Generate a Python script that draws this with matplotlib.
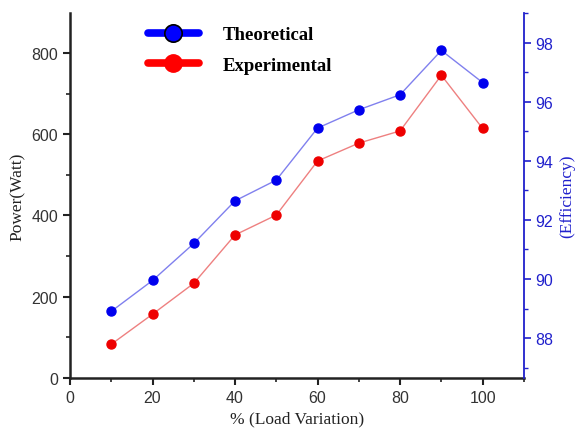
import matplotlib
matplotlib.use("Agg")
import matplotlib.pyplot as plt
from matplotlib.lines import Line2D
from matplotlib.ticker import MultipleLocator

load = [10, 20, 30, 40, 50, 60, 70, 80, 90, 100]
theoretical = [164, 240, 331, 436, 487, 615, 660, 697, 806, 727]
experimental = [83, 157, 233, 352, 401, 534, 578, 608, 745, 614]
left_ticks = [0, 200, 400, 600, 800]
right_ticks = [88, 90, 92, 94, 96, 98]
x_ticks = [0, 20, 40, 60, 80, 100]

fig = plt.figure(figsize=(5.76, 4.35), dpi=100)
ax = fig.add_axes([0.1215, 0.1287, 0.788, 0.839])

ax.plot(load, theoretical, color="#8080ee", lw=1, marker="o", ms=6.5,
        mfc="#0000ee", mec="#0000ee", zorder=3)
ax.plot(load, experimental, color="#ee8080", lw=1, marker="o", ms=6.5,
        mfc="#ee0000", mec="#ee0000", zorder=3)

ax.set_xlim(0, 110)
ax.set_ylim(0, 898)
ax.set_xticks(x_ticks)
ax.set_yticks(left_ticks)
ax.xaxis.set_minor_locator(MultipleLocator(10))
ax.yaxis.set_minor_locator(MultipleLocator(100))
for lab in ax.get_xticklabels() + ax.get_yticklabels():
    lab.set_family("Liberation Sans")
    lab.set_fontsize(11.5)
    lab.set_color("#333333")
ax.tick_params(which="major", direction="out", length=5, width=1.5, color="#222222")
ax.tick_params(which="minor", direction="out", length=3, width=1.2, color="#222222")
ax.spines["top"].set_visible(False)
ax.spines["right"].set_visible(False)
ax.spines["left"].set_linewidth(1.8)
ax.spines["bottom"].set_linewidth(1.8)
ax.spines["left"].set_color("#222222")
ax.spines["bottom"].set_color("#222222")
ax.set_xlabel("% (Load Variation)", family="Liberation Serif", fontsize=12.5, color="#222222")
ax.set_ylabel("Power(Watt)", family="Liberation Serif", fontsize=12.5, color="#222222")

ax2 = ax.twinx()
ax2.set_ylim(86.65, 99.0)
ax2.set_yticks(right_ticks)
ax2.yaxis.set_minor_locator(MultipleLocator(1))
for s in ["top", "left", "bottom"]:
    ax2.spines[s].set_visible(False)
ax2.spines["right"].set_color("#2020cc")
ax2.spines["right"].set_linewidth(1.3)
ax2.tick_params(which="major", direction="out", length=5, width=1.2, color="#2020cc", labelcolor="#2020cc")
ax2.tick_params(which="minor", direction="out", length=3, width=1.0, color="#2020cc")
for lab in ax2.get_yticklabels():
    lab.set_family("Liberation Sans")
    lab.set_fontsize(11.5)
ax2.set_ylabel("(Efficiency)", family="Liberation Serif", fontsize=12.5, color="#2020cc")

handles = [
    Line2D([], [], color="#0000ff", lw=5.5, solid_capstyle="round", marker="o", ms=12.5,
           mfc="#0000ff", mec="black", mew=1.2),
    Line2D([], [], color="#ff0000", lw=5.5, solid_capstyle="round", marker="o", ms=12.5,
           mfc="#ff0000", mec="#ff0000"),
]
leg = ax.legend(handles, ["Theoretical", "Experimental"], loc="upper left",
                bbox_to_anchor=(0.135, 1.01), frameon=False, handlelength=2.7,
                handletextpad=1.3, labelspacing=0.7,
                prop={"family": "Liberation Serif", "weight": "bold", "size": 13.5})

fig.savefig("out.png", dpi=100)
